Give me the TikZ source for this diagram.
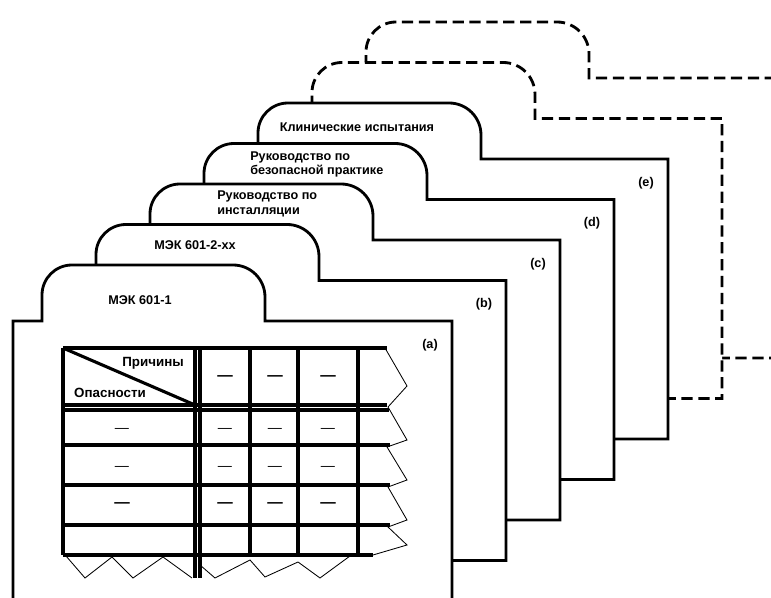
\documentclass[tikz,border=0pt]{standalone}
\usepackage{fontspec}
\setmainfont{Liberation Sans}
\usetikzlibrary{positioning, calc}

\begin{document}
\begin{tikzpicture}[
    x=0.025cm, y=0.025cm,
    sheet/.style={fill=white, draw=black, line width=2pt},
    ghost/.style={sheet, dash pattern=on 8pt off 4pt},
    grid/.style={line width=2.2pt},
    torn/.style={line width=0.6pt},
    tabtext/.style={font=\fontsize{9}{10.5}\selectfont\bfseries, align=left, inner sep=0pt},
    tag/.style={font=\fontsize{9}{10}\selectfont\bfseries, inner sep=0pt},
    cell/.style={font=\fontsize{9.5}{11}\selectfont\bfseries, inner sep=0pt},
    pics/docsheet/.style={code={
        \path[pic actions] (0,-280) -- (0,0) -- (29,0) -- (29,26) to[out=90,in=180] (59,56)
            -- (220,56) to[out=0,in=90] (252,24) -- (252,0) -- (439,0) -- (439,-280) -- cycle;
    }}
]
\useasboundingbox (0,0) rectangle (771,598);
\clip (0,0) rectangle (771,598);

% Sheet corners (top left of each body)
\foreach \k in {0,...,6}
    \coordinate (d\k) at ({13+54*\k}, {277+40.5*\k});

% Sheets, back to front
\pic[ghost] at (d6) {docsheet};
\pic[ghost] at (d5) {docsheet};
\foreach \k in {4,...,0}
    \pic[sheet] at (d\k) {docsheet};

% Tab titles
\node[tabtext] (std1) at ($(d0)+(127,21)$) {МЭК 601-1};
\node[tabtext] (std2) at ($(d1)+(128,35)$) {МЭК 601-2-xx};
\node[tabtext, anchor=west] (inst) at ($(d2)+(96,36)$) {Руководство по\\инсталляции};
\node[tabtext, anchor=west] (safe) at ($(d3)+(75,35)$) {Руководство по\\безопасной практике};
\node[tabtext] (clin) at ($(d4)+(128,32)$) {Клинические испытания};

% Sheet tags
\foreach \k/\t in {0/a,1/b,2/c,3/d,4/e}
    \node[tag] (tag\t) at ($(d\k)+(417,-24)$) {(\t)};

% Table on the front sheet
\begin{scope}[shift={(0,598)}, yscale=-1]
    \foreach \r/\e in {348/387, 405/387, 410/389, 445/390, 485/390, 525/390, 555/373}
        \draw[grid] (63,\r) -- (\e,\r);
    \draw[grid] (63,348) -- (63,555);
    \draw[grid] (195,348) -- (195,578);
    \draw[grid] (200,348) -- (200,578);
    \foreach \c in {250,298,358}
        \draw[grid] (\c,348) -- (\c,555);
    \draw[grid] (63,348) -- (195,405);

    % torn edges
    \draw[torn] (385,348) -- (407,386) -- (388,407) -- (407,440) -- (387,447) -- (407,480)
        -- (388,487) -- (407,520) -- (388,527) -- (407,545) -- (373,555);
    \draw[torn] (66,556) -- (85,578) -- (112,557) -- (133,578) -- (163,557) -- (192,578);
    \draw[torn] (200,565) -- (215,578) -- (250,560) -- (265,577) -- (298,562) -- (320,578) -- (350,556);

    % header cell
    \node[cell] (cause) at (153,363) {Причины};
    \node[cell] (hazard) at (110,393) {Опасности};

    % cell entries
    \foreach \c in {225,275,328}
        \node[cell, font=\fontsize{11}{12}\selectfont\bfseries] (top\c) at (\c,378) {—};
    \foreach \r in {430,468} {
        \foreach \c in {122,225,275,328}
            \node[cell, font=\fontsize{10}{11}\selectfont] (e\r\c) at (\c,\r) {—};
    }
    \foreach \c in {122,225,275,328}
        \node[cell, font=\fontsize{11}{12}\selectfont\bfseries] (b\c) at (\c,505) {—};
\end{scope}

\end{tikzpicture}
\end{document}
